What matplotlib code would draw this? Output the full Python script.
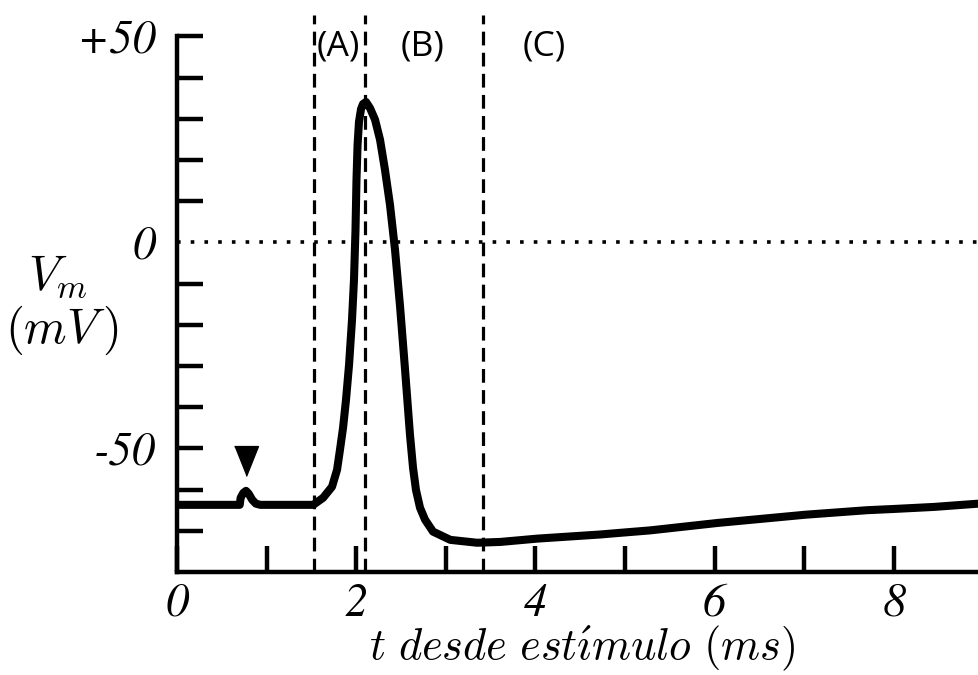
import matplotlib
matplotlib.use("Agg")
import matplotlib.pyplot as plt

# ---- data ----
t_ms = [0.00, 0.70, 0.71, 0.74, 0.77, 0.80, 0.84, 0.88, 0.93, 1.52,
        1.63, 1.73, 1.786, 1.819, 1.853, 1.886, 1.920, 1.953, 1.975, 1.992,
        2.003, 2.015, 2.031, 2.054, 2.076, 2.109, 2.154, 2.210, 2.266, 2.321,
        2.377, 2.433, 2.489, 2.545, 2.600, 2.634, 2.667, 2.712, 2.768, 2.857,
        3.05, 3.35, 3.61, 4.02, 4.72, 4.94, 5.28, 6.03, 7.01, 7.70,
        8.00, 8.45, 8.95]
vm_mV = [-63.7, -63.7, -62.0, -60.8, -60.3, -61.0, -62.5, -63.4, -63.7, -63.7,
         -62.0, -59.3, -55.2, -50.3, -45.0, -38.2, -29.7, -18.8, -9.1, 3.1,
         15.2, 23.7, 29.3, 32.4, 33.6, 34.1, 32.6, 29.8, 24.9, 17.6,
         9.1, -1.8, -15.5, -30.9, -46.7, -54.7, -60.1, -64.4, -67.3, -70.2,
         -72.2, -72.9, -72.7, -71.9, -70.9, -70.5, -69.9, -68.1, -66.1, -65.0,
         -64.7, -64.2, -63.4]

phase_bounds_ms = [1.53, 2.10, 3.41]
phase_labels = ["(A)", "(B)", "(C)"]
phase_label_t = [1.80, 2.74, 4.10]
phase_label_v = 47.5

stim_t = 0.77
stim_marker_v = -53.0

x_ticks = [0, 1, 2, 3, 4, 5, 6, 7, 8]
x_tick_labels = ["0", "", "2", "", "4", "", "6", "", "8"]
y_ticks = [50, 40, 30, 20, 10, 0, -10, -20, -30, -40, -50, -60, -70]
y_tick_labels = ["+50", "", "", "", "", "0", "", "", "", "", "-50", "", ""]

xlabel_text = r"$t\ desde\ est\acute{\imath}mulo\ (ms)$"
ylabel_lines = [r"$V_m$", r"$(mV\,)$"]

# ---- figure ----
W, H = 979, 675
fig = plt.figure(figsize=(W / 100, H / 100), dpi=100)
ax = fig.add_axes([177 / W, (H - 572) / H, 1 - 177 / W, (572 - 15) / H])
ax.set_xlim(0, 8.95)
ax.set_ylim(-80, 55.2)

for s in ("top", "right"):
    ax.spines[s].set_visible(False)
ax.spines["left"].set_bounds(-80, 50)
for s in ("left", "bottom"):
    ax.spines[s].set_linewidth(3.2)

# zero line and phase boundaries
ax.axhline(0, color="black", lw=2.6, linestyle=(0, (1.0, 2.8)), zorder=1)
for xb in phase_bounds_ms:
    ax.axvline(xb, color="black", lw=2.3, linestyle=(0, (4.3, 2.3)), zorder=1)

# action potential trace
ax.plot(t_ms, vm_mV, color="black", lw=5.8, solid_capstyle="butt",
        solid_joinstyle="round", zorder=3, clip_on=False)

# stimulus marker
ax.plot([stim_t], [stim_marker_v], linestyle="none", color="black",
        marker=[(-0.8, 1), (0.8, 1), (0, -1)], markersize=21.5, zorder=4)

# phase labels
for lab, xt in zip(phase_labels, phase_label_t):
    ax.text(xt, phase_label_v, lab, ha="center", va="center",
            fontsize=25.5, family="Open Sans")

# ticks
tick_font = dict(family="STIXGeneral", style="italic", size=33.5)
ax.set_xticks(x_ticks)
ax.set_xticklabels(x_tick_labels, **tick_font)
ax.set_yticks(y_ticks)
ax.set_yticklabels(y_tick_labels, **tick_font)
ax.tick_params(axis="both", direction="in", length=19, width=3.2, color="black")
ax.tick_params(axis="y", pad=15)
ax.tick_params(axis="x", pad=8)
for tk in ax.yaxis.get_major_ticks():
    if tk.get_loc() == 0:
        tk.tick1line.set_visible(False)

# labels
fig.text(582 / W, 1 - 648 / H, xlabel_text, ha="center", va="center",
         fontsize=32, math_fontfamily="cm")
fig.text(58 / W, 1 - 276 / H, ylabel_lines[0], ha="center", va="center",
         fontsize=35, math_fontfamily="cm")
fig.text(62 / W, 1 - 330 / H, ylabel_lines[1], ha="center", va="center",
         fontsize=35, math_fontfamily="cm")

fig.savefig("out.png", dpi=100)
